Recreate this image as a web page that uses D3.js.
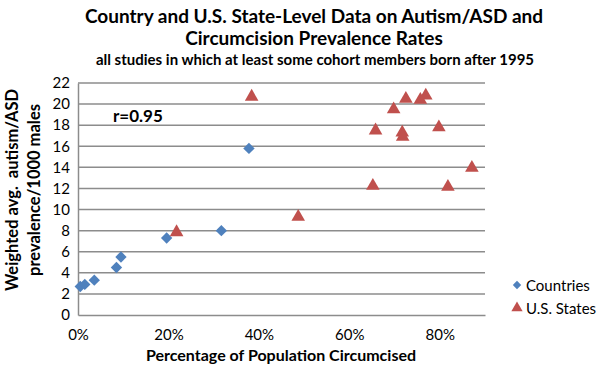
<!DOCTYPE html>
<html>
<head>
<meta charset="utf-8">
<script src="https://cdn.jsdelivr.net/npm/d3@7"></script>
<style>
  body { margin: 0; background: #fff; }
  text { font-family: Lato, "Open Sans", sans-serif; fill: #000; }
</style>
</head>
<body>
<svg id="chart" width="600" height="367"></svg>
<script>
// Countries (blue diamonds)
var countryX = [0.005, 0.015, 0.036, 0.085, 0.095, 0.196, 0.317, 0.378];
var countryY = [2.7, 2.9, 3.3, 4.5, 5.5, 7.3, 8.0, 15.8];

// U.S. States (red triangles)
var stateX = [0.384, 0.218, 0.487, 0.725, 0.757, 0.769, 0.698, 0.658, 0.717, 0.718, 0.798, 0.871, 0.652, 0.818];
var stateY = [20.7, 7.85, 9.3, 20.5, 20.4, 20.8, 19.5, 17.5, 17.3, 16.9, 17.8, 13.95, 12.25, 12.15];

var xTicks = [0, 0.2, 0.4, 0.6, 0.8];
var yTicks = [0, 2, 4, 6, 8, 10, 12, 14, 16, 18, 20, 22];

var svg = d3.select("#chart"),
  margin = { left: 78, right: 115, top: 83, bottom: 52 },
  width = +svg.attr("width") - margin.left - margin.right,
  height = +svg.attr("height") - margin.top - margin.bottom;

var g = svg.append("g").attr("transform", `translate(${margin.left},${margin.top})`);

var x = d3.scaleLinear().domain([0, 0.9]).range([0, width]);
var y = d3.scaleLinear().domain([0, 22]).range([height, 0]);

// gridlines
g.selectAll(".grid")
  .data(yTicks.slice(1))
  .enter()
  .append("line")
  .attr("x1", 0)
  .attr("x2", width)
  .attr("y1", (d) => y(d))
  .attr("y2", (d) => y(d))
  .attr("stroke", "#8c8c8c")
  .attr("stroke-width", 1.5);

// axes
var yAxis = g.append("g").call(d3.axisLeft(y).tickValues(yTicks).tickSize(0).tickPadding(8));
var xAxis = g.append("g")
  .attr("transform", `translate(0,${height})`)
  .call(d3.axisBottom(x).tickValues(xTicks).tickFormat(d3.format(".0%")).tickSize(0).tickPadding(14));

[xAxis, yAxis].forEach((a) => {
  a.select(".domain").attr("stroke", "#8c8c8c").attr("stroke-width", 1.5);
  a.selectAll("text").style("font-size", "15px").style("font-family", "Lato, sans-serif");
});

// countries
g.selectAll(".country")
  .data(countryX)
  .enter()
  .append("path")
  .attr("d", d3.symbol().type(d3.symbolDiamond2).size(82))
  .attr("transform", (d, i) => `translate(${x(d)},${y(countryY[i])})`)
  .attr("fill", "#4f81bd");

// states
g.selectAll(".state")
  .data(stateX)
  .enter()
  .append("path")
  .attr("d", d3.symbol().type(d3.symbolTriangle).size(80))
  .attr("transform", (d, i) => `translate(${x(d)},${y(stateY[i])})`)
  .attr("fill", "#c0504d");

// r annotation
svg.append("text")
  .attr("x", 113)
  .attr("y", 122)
  .style("font-size", "17px")
  .style("font-weight", "bold")
  .text("r=0.95");

// titles
svg.append("text").attr("x", 314).attr("y", 23).attr("text-anchor", "middle")
  .style("font-size", "19px").style("font-weight", "bold")
  .text("Country and U.S. State-Level Data on Autism/ASD and");
svg.append("text").attr("x", 314).attr("y", 45).attr("text-anchor", "middle")
  .style("font-size", "19px").style("font-weight", "bold")
  .text("Circumcision Prevalence Rates");
svg.append("text").attr("x", 315).attr("y", 65).attr("text-anchor", "middle")
  .style("font-size", "15px").style("font-weight", "bold")
  .text("all studies in which at least some cohort members born after 1995");

// x axis title
svg.append("text").attr("x", 281).attr("y", 361).attr("text-anchor", "middle")
  .style("font-size", "16px").style("font-weight", "bold")
  .text("Percentage of Population Circumcised");

// y axis title
var yt = svg.append("text").attr("transform", "translate(0,190) rotate(-90)")
  .attr("text-anchor", "middle")
  .style("font-size", "16.5px").style("font-weight", "bold");
yt.append("tspan").attr("x", 0).attr("y", 18).text("Weighted avg.\u00a0 autism/ASD");
yt.append("tspan").attr("x", 0).attr("y", 40).text("prevalence/1000 males");

// legend
var legend = svg.append("g").attr("transform", "translate(517,285)");
legend.append("path")
  .attr("d", d3.symbol().type(d3.symbolDiamond2).size(45))
  .attr("fill", "#4f81bd");
legend.append("text").attr("x", 9).attr("y", 5.5).style("font-size", "15px").text("Countries");
legend.append("path")
  .attr("d", d3.symbol().type(d3.symbolTriangle).size(55))
  .attr("transform", "translate(0,23)")
  .attr("fill", "#c0504d");
legend.append("text").attr("x", 9).attr("y", 28.5).style("font-size", "15px").text("U.S. States");
</script>
</body>
</html>
